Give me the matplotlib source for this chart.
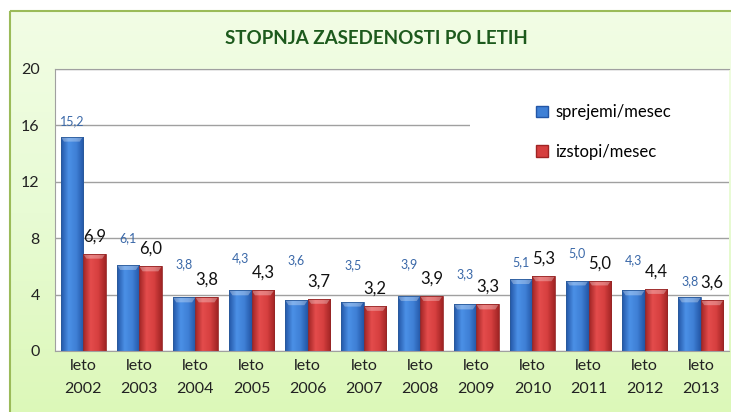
import numpy as np
import matplotlib
matplotlib.use("Agg")
import matplotlib.pyplot as plt
from matplotlib.colors import LinearSegmentedColormap
from matplotlib.patches import Rectangle, Patch, Polygon
from matplotlib.transforms import blended_transform_factory

plt.rcParams['font.family'] = ['Lato', 'DejaVu Sans']

# podatki
years = ['2002', '2003', '2004', '2005', '2006', '2007',
         '2008', '2009', '2010', '2011', '2012', '2013']
sprejemi = [15.2, 6.1, 3.8, 4.3, 3.6, 3.5, 3.9, 3.3, 5.1, 5.0, 4.3, 3.8]
izstopi = [6.9, 6.0, 3.8, 4.3, 3.7, 3.2, 3.9, 3.3, 5.3, 5.0, 4.4, 3.6]
# rocno premaknjene oznake (v tockah nad stolpcem)
blue_lift = [11, 19, 24, 23, 29, 26, 23, 22, 12, 20, 22, 12]

W, H = 731, 412
fig = plt.figure(figsize=(W / 100, H / 100), dpi=100)
fig.patch.set_facecolor('white')

# ozadje z zelenim prelivom
bg = fig.add_axes([0, 0, 1, 1], zorder=-10)
bg.axis('off')
grad = np.linspace(0, 1, 256).reshape(-1, 1)
bg_cmap = LinearSegmentedColormap.from_list('bg', ['#f2fde5', '#e8fbd4', '#dcf8b8'])
bg.imshow(grad, cmap=bg_cmap, extent=[9, W + 5, H + 5, 10], aspect='auto')
bg.add_patch(Rectangle((9.5, 10.5), W, H, fill=False, edgecolor='#9bbb59', lw=1.5))
bg.set_xlim(0, W)
bg.set_ylim(H, 0)

fig.text(376 / W, 1 - 38 / H, 'STOPNJA ZASEDENOSTI PO LETIH', ha='center', va='center',
         fontsize=13.5, fontweight='bold', color='#1d5a1d')

ax = fig.add_axes([55 / W, 61 / H, 674 / W, 282 / H])
ax.set_facecolor('white')

x = np.arange(len(years))
w = 0.4
b1 = ax.bar(x - w / 2, sprejemi, w, color='none', edgecolor='#2a5a9a', lw=0.6, zorder=3)
b2 = ax.bar(x + w / 2, izstopi, w, color='none', edgecolor='#962626', lw=0.6, zorder=3)

blue_cm = LinearSegmentedColormap.from_list('b', ['#2356a6', '#4b90e6', '#3f80d6', '#2356a6'])
red_cm = LinearSegmentedColormap.from_list('r', ['#a02424', '#e44c4c', '#d63f3f', '#a02424'])
hgrad = np.linspace(0, 1, 64).reshape(1, -1)
for bars, cm in ((b1, blue_cm), (b2, red_cm)):
    for p in bars:
        x0, y0 = p.get_x(), p.get_y()
        bw, bh = p.get_width(), p.get_height()
        im = ax.imshow(hgrad, cmap=cm, extent=[x0, x0 + bw, y0, y0 + bh],
                       aspect='auto', zorder=2)
        im.set_clip_path(p)
        # svetlejsi poseven rob na vrhu
        top = y0 + bh
        ax.add_patch(Polygon([(x0, top), (x0 + bw, top), (x0 + bw * 0.85, top - 0.35),
                              (x0 + bw * 0.15, top - 0.35)], closed=True,
                             facecolor='white', alpha=0.3, lw=0, zorder=2.5))

for xi, v, lift in zip(x, sprejemi, blue_lift):
    ax.annotate(f'{v:.1f}'.replace('.', ','), (xi - w / 2, v), xytext=(0, lift),
                textcoords='offset points', ha='center', va='center',
                fontsize=9, color='#3a68a8')
for xi, v in zip(x, izstopi):
    ax.annotate(f'{v:.1f}'.replace('.', ','), (xi + w / 2, v), xytext=(0, 12.5),
                textcoords='offset points', ha='center', va='center',
                fontsize=12, color='#111111')

ax.set_xlim(-0.5, 11.5)
ax.set_ylim(0, 20)
ax.set_yticks([0, 4, 8, 12, 16, 20])
ax.set_xticks(x)
ax.set_xticklabels(['leto\n' + y for y in years], linespacing=1.75)
ax.tick_params(axis='both', length=0, labelsize=11.5, colors='#222222')
ax.tick_params(axis='y', pad=11)
ax.tick_params(axis='x', pad=6)
ax.yaxis.grid(True, color='#a0a0a0', lw=1, zorder=0)
ax.set_axisbelow(True)
for s in ('left', 'bottom', 'top'):
    ax.spines[s].set_color('#a0a0a0')
ax.spines['right'].set_visible(False)

# belo polje za legendo
ax.add_patch(Rectangle((0.616, 13.2), 0.384, 6.5,
                       transform=blended_transform_factory(ax.transAxes, ax.transData),
                       facecolor='white', lw=0, zorder=1))

handles = [Patch(facecolor='#3f80d6', edgecolor='#2356a6'),
           Patch(facecolor='#d63f3f', edgecolor='#a02424')]
ax.legend(handles, ['sprejemi/mesec', 'izstopi/mesec'], loc='upper left',
          bbox_to_anchor=((528 - 55) / 674, (351 - 96) / 282), frameon=False,
          fontsize=12, labelspacing=1.42, handlelength=0.7, handleheight=0.7,
          handletextpad=0.45, borderpad=0)

fig.savefig('out.png', dpi=100)
